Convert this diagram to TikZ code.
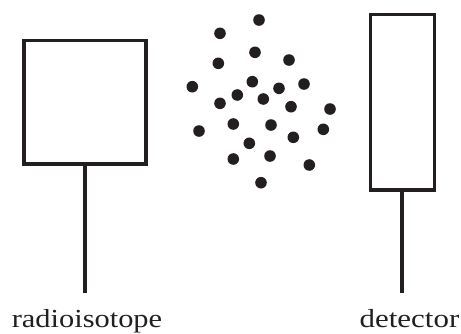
\documentclass[tikz,border=0pt]{standalone}
\usepackage{graphicx}
\usepackage{fontspec}
\setmainfont{Liberation Serif}
\definecolor{ink}{HTML}{231F20}
\begin{document}
\begin{tikzpicture}[x=1pt,y=-1pt,
  box/.style={draw=ink,line width=3.8pt,inner sep=0pt,fill=white},
  stem/.style={draw=ink,line width=3.6pt},
  lbl/.style={anchor=base,inner sep=0pt,text=ink,font=\fontsize{26}{30}\selectfont},
  dot/.style={circle,fill=ink,inner sep=0pt,minimum size=11.6pt}]
\useasboundingbox (0,0) rectangle (461,333);
% boxes
\node[box,minimum width=122.2pt,minimum height=123.2pt] (src) at (84.9,102.1) {};
\node[box,minimum width=64pt,minimum height=175.8pt] (det) at (402.5,102.4) {};
% stem ends
\coordinate (srcend) at (85,293);
\coordinate (detend) at (401.7,293.3);
\draw[stem] (src.south -| srcend) -- (srcend);
\draw[stem] (det.south -| detend) -- (detend);
% labels
\node[lbl] (srclbl) at (87,327.5) {\scalebox{1.17}[1]{radioisotope}};
\node[lbl] (detlbl) at (409.5,327.5) {\scalebox{1.19}[1]{detector}};
% particles
\foreach \i/\x/\y in {1/259/20,2/220/33.3,3/255/52.3,4/218.3/63.3,5/289/60,
  6/192.3/86.7,7/252.3/81.7,8/279/88.3,9/304/84,10/237.3/95,11/263.3/99,
  12/220/103.3,13/291/106.7,14/330/109,15/199/131,16/233.3/124,17/271/125,
  18/323.3/129.3,19/293.3/137.3,20/249.3/143.3,21/270/156,22/233.3/159,
  23/309.3/165,24/261/182.7}
  \node[dot] (p\i) at (\x,\y) {};
\end{tikzpicture}
\end{document}
